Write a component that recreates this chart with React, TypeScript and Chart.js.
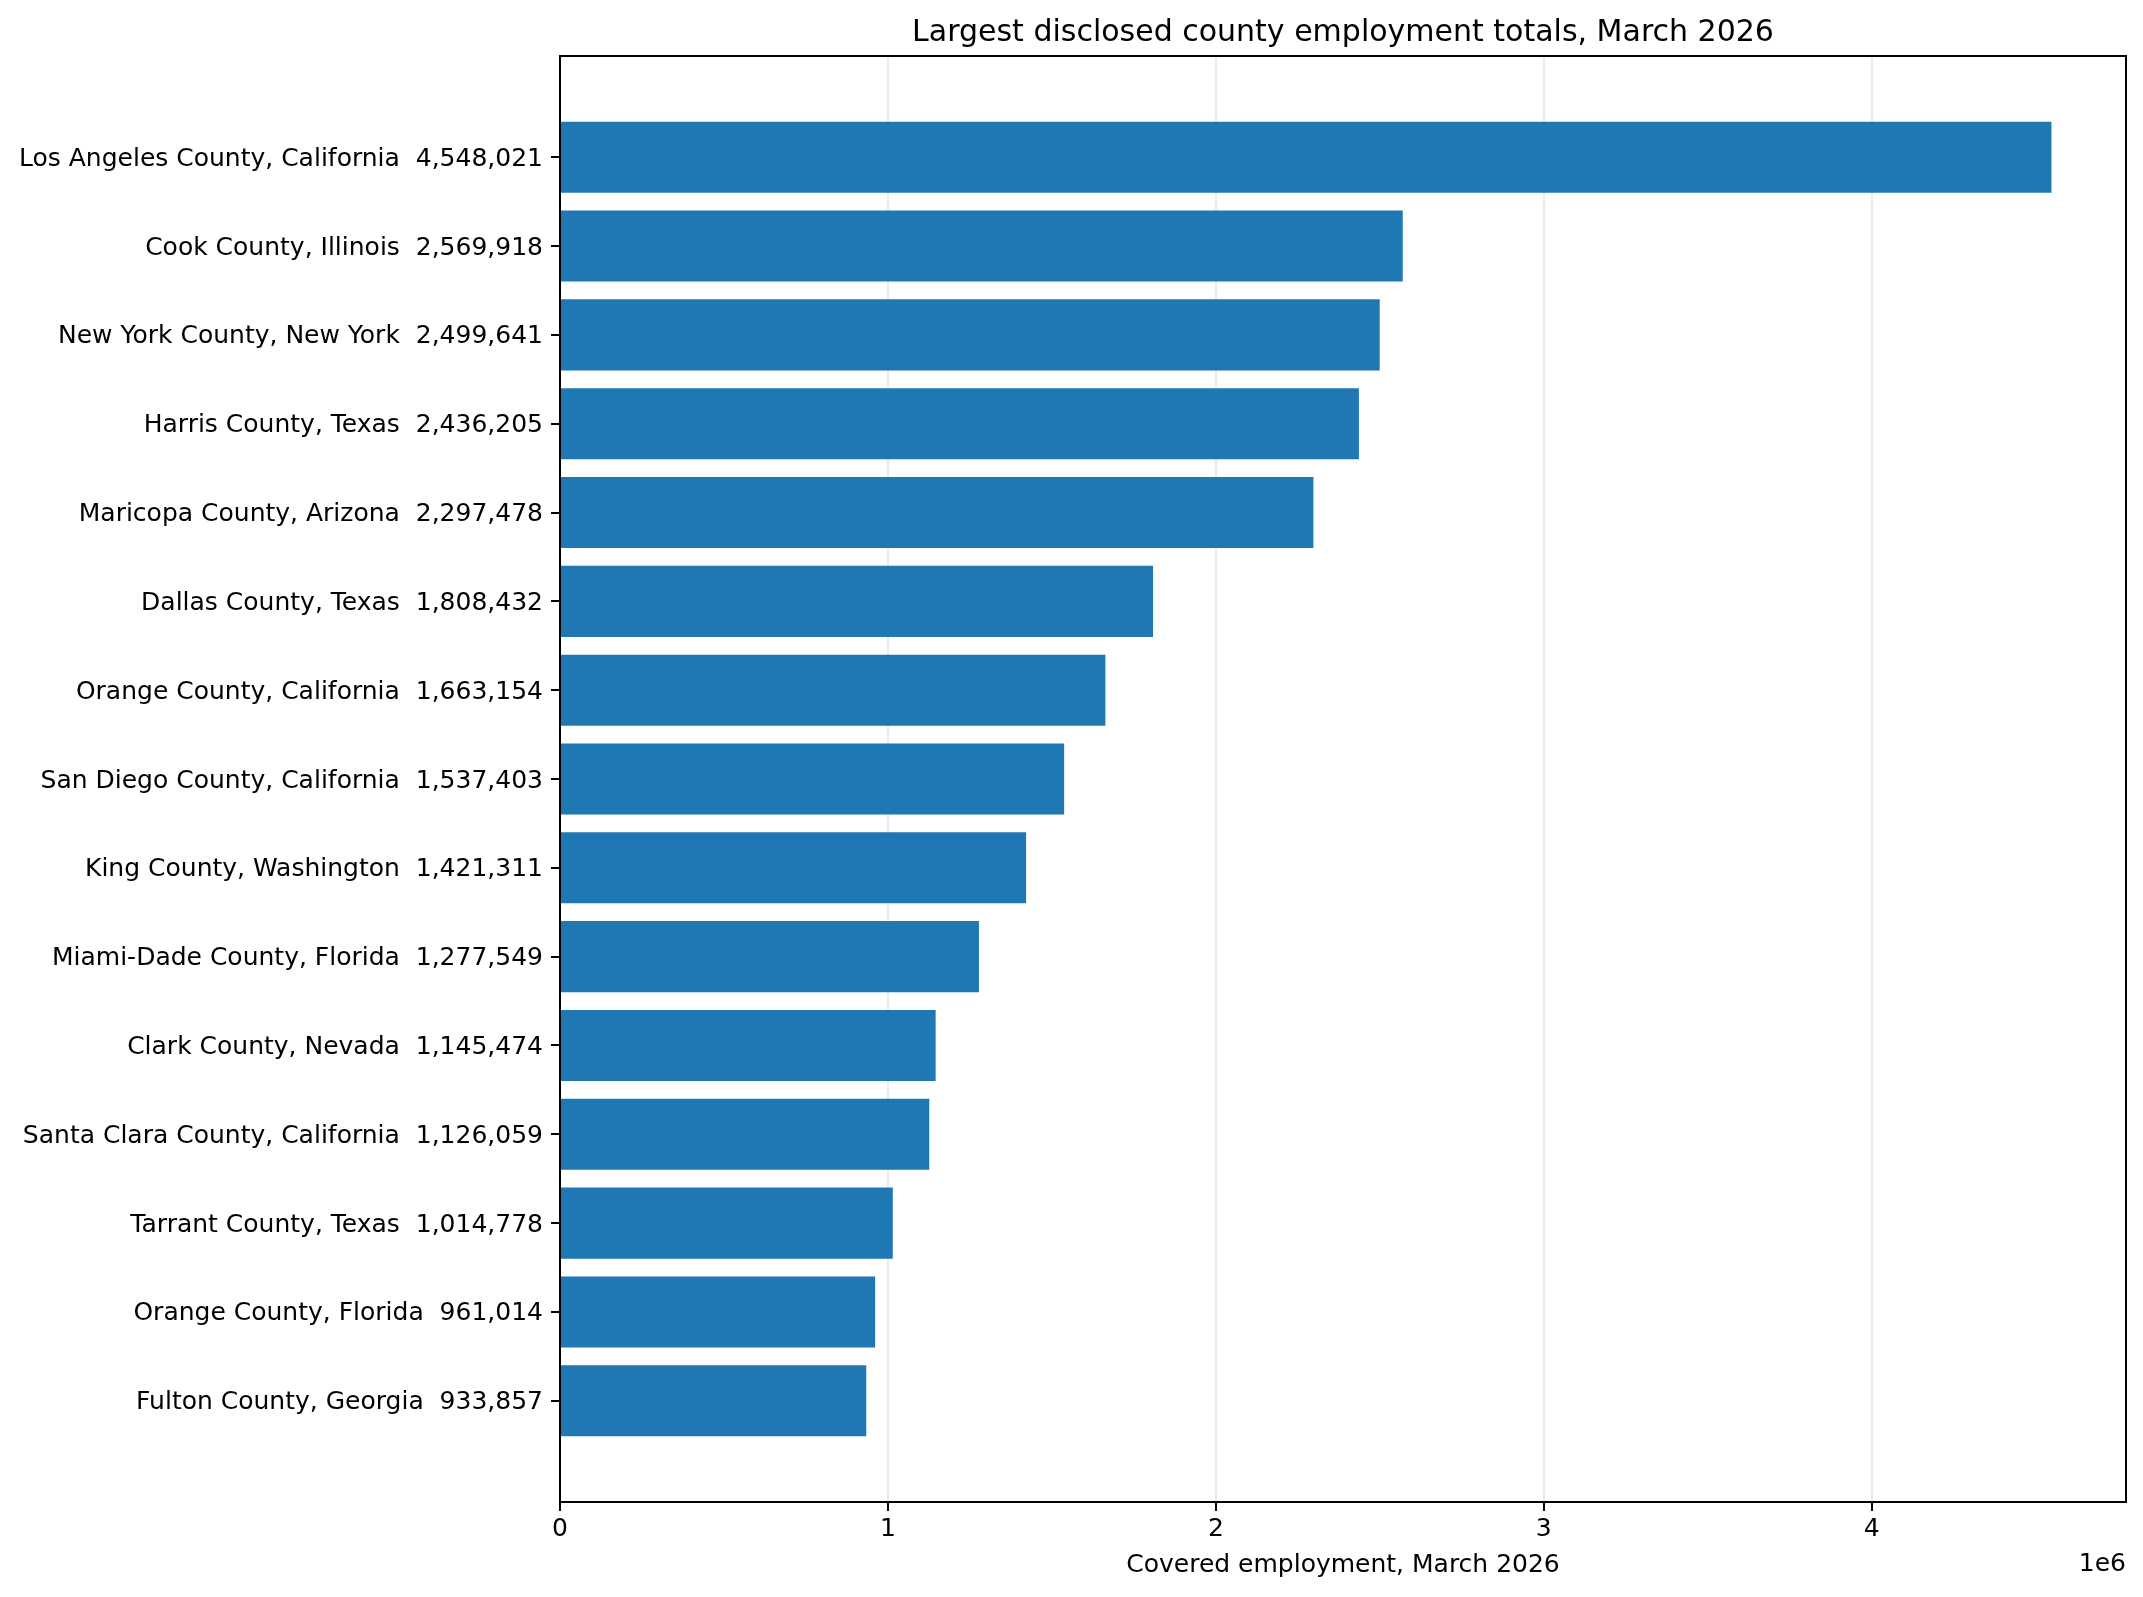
import React, { useEffect, useRef } from 'react';
import { Chart, registerables } from 'chart.js';

Chart.register(...registerables);

const counties = [
  'Los Angeles County, California',
  'Cook County, Illinois',
  'New York County, New York',
  'Harris County, Texas',
  'Maricopa County, Arizona',
  'Dallas County, Texas',
  'Orange County, California',
  'San Diego County, California',
  'King County, Washington',
  'Miami-Dade County, Florida',
  'Clark County, Nevada',
  'Santa Clara County, California',
  'Tarrant County, Texas',
  'Orange County, Florida',
  'Fulton County, Georgia',
];

const employment = [
  4548021, 2569918, 2499641, 2436205, 2297478, 1808432, 1663154, 1537403,
  1421311, 1277549, 1145474, 1126059, 1014778, 961014, 933857,
];

// x ticks, in millions (offset text "1e6")
const xTicks = [0, 1, 2, 3, 4];

const yLabels = counties.map((c, i) => `${c}  ${employment[i].toLocaleString('en-US')}`);

const TITLE = 'Largest disclosed county employment totals, March 2026';
const FONT = '"DejaVu Sans"';

const framePlugin = {
  id: 'frame',
  afterDraw(chart: Chart) {
    const { ctx, chartArea: a } = chart;
    ctx.save();
    ctx.strokeStyle = '#000';
    ctx.lineWidth = 2;
    ctx.strokeRect(a.left, a.top, a.right - a.left, a.bottom - a.top);
    ctx.fillStyle = '#000';
    ctx.font = `30px ${FONT}`;
    ctx.textAlign = 'center';
    ctx.textBaseline = 'alphabetic';
    ctx.fillText(TITLE, (a.left + a.right) / 2, a.top - 15);
    ctx.font = `25px ${FONT}`;
    ctx.textAlign = 'right';
    ctx.fillText('1e6', a.right, a.bottom + 69);
    ctx.restore();
  },
};

const App: React.FC = () => {
  const canvasRef = useRef<HTMLCanvasElement | null>(null);

  useEffect(() => {
    document.body.style.margin = '0';
    if (!canvasRef.current) return;
    const n = counties.length;
    // matplotlib barh: bars are 0.8 tall, 5% margins on the data range
    const span = n - 1 + 0.8;
    const yMin = -0.4 - span * 0.05;
    const yMax = n - 1 + 0.4 + span * 0.05;

    const chart = new Chart(canvasRef.current, {
      type: 'bar',
      data: {
        datasets: [
          {
            data: employment.map((v, i) => ({ x: v, y: i })),
            backgroundColor: '#1f77b4',
            borderWidth: 0,
            barPercentage: 0.8,
            categoryPercentage: 1,
          },
        ],
      },
      options: {
        indexAxis: 'y',
        animation: false,
        responsive: false,
        devicePixelRatio: 1,
        layout: { padding: { top: 56, right: 17, left: 0, bottom: 0 } },
        plugins: {
          legend: { display: false },
          tooltip: { enabled: false },
        },
        scales: {
          x: {
            type: 'linear',
            min: 0,
            max: Math.max(...employment) * 1.05,
            z: 1,
            afterBuildTicks: (scale: any) => {
              scale.ticks = xTicks.map((t) => ({ value: t * 1e6 }));
            },
            afterFit: (scale: any) => {
              scale.height = 95;
            },
            grid: {
              color: 'rgba(176,176,176,0.26)',
              lineWidth: 2,
              tickColor: '#000',
              tickWidth: 2,
              tickLength: 9,
            },
            border: { display: false },
            ticks: {
              color: '#000',
              padding: 3,
              font: { family: 'DejaVu Sans', size: 25, lineHeight: 1.2 },
              callback: (v: any) => String(Number(v) / 1e6),
            },
            title: {
              display: true,
              text: 'Covered employment, March 2026',
              color: '#000',
              font: { family: 'DejaVu Sans', size: 25, lineHeight: 1 },
              padding: { top: 0, bottom: 19 },
            },
          },
          y: {
            type: 'linear',
            reverse: true,
            offset: false,
            min: yMin,
            max: yMax,
            afterBuildTicks: (scale: any) => {
              scale.ticks = counties.map((_, i) => ({ value: i }));
            },
            afterFit: (scale: any) => {
              scale.width = 560;
            },
            grid: {
              offset: false,
              drawOnChartArea: false,
              color: '#000',
              lineWidth: 2,
              tickLength: 9,
            },
            border: { display: false },
            ticks: {
              color: '#000',
              padding: 8,
              labelOffset: 2,
              autoSkip: false,
              font: { family: 'DejaVu Sans', size: 25 },
              callback: (_v: any, i: number) => yLabels[i],
            },
          },
        },
      },
      plugins: [framePlugin],
    });

    return () => {
      chart.destroy();
    };
  }, []);

  return (
    <div style={{ width: 2143, height: 1597 }}>
      <canvas ref={canvasRef} width={2143} height={1597} style={{ display: 'block' }} />
    </div>
  );
};

export default App;
